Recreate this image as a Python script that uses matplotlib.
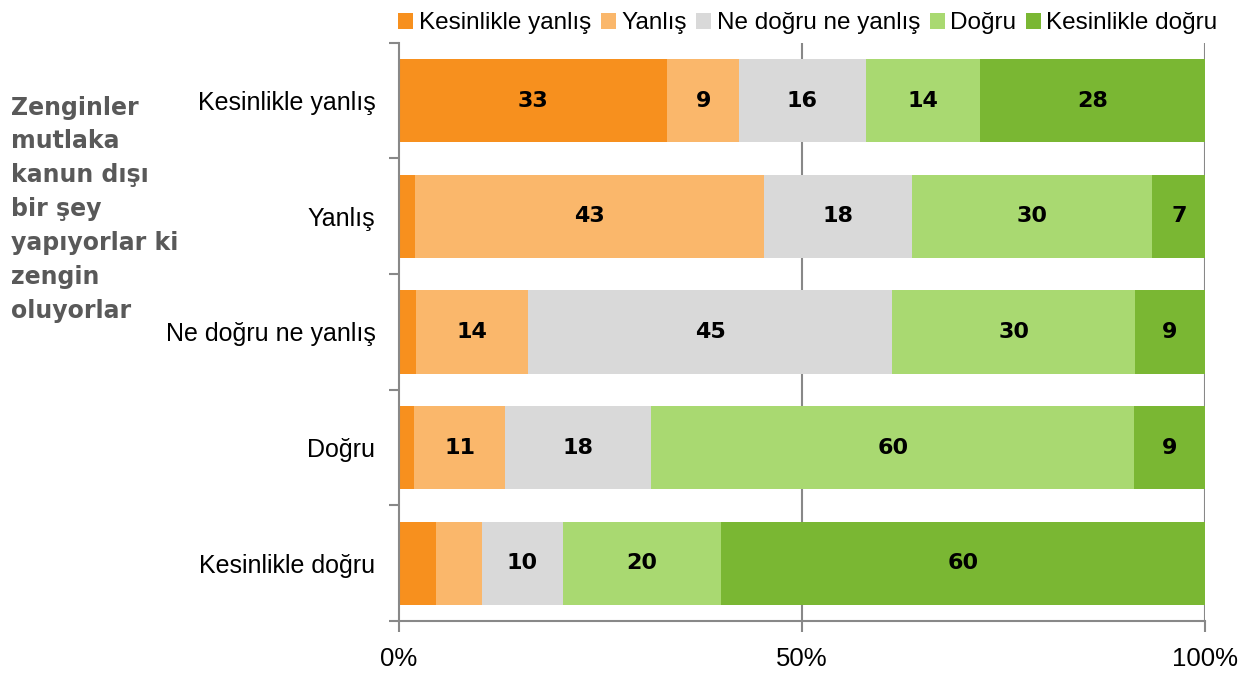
import matplotlib
matplotlib.use("Agg")
import matplotlib.pyplot as plt
import numpy as np

CATEGORIES = ["Kesinlikle yanlış", "Yanlış", "Ne doğru ne yanlış", "Doğru", "Kesinlikle doğru"]
SERIES = ["Kesinlikle yanlış", "Yanlış", "Ne doğru ne yanlış", "Doğru", "Kesinlikle doğru"]
COLORS = ["#F7901E", "#FAB76B", "#D9D9D9", "#A9D971", "#7AB733"]

# one list per series, values per category (top to bottom)
KES_YANLIS = [33.3, 2.0, 2.1, 1.9, 4.6]
YANLIS = [8.9, 43.3, 13.9, 11.3, 5.7]
NOTR = [15.7, 18.4, 45.2, 18.1, 10.0]
DOGRU = [14.2, 29.7, 30.1, 59.9, 19.7]
KES_DOGRU = [27.9, 6.7, 8.7, 8.8, 60.0]

TITLE = "Zenginler\nmutlaka\nkanun dışı\nbir şey\nyapıyorlar ki\nzengin\noluyorlar"

LABEL_FONT = ["Liberation Sans", "DejaVu Sans"]
HEAVY_FONT = ["DejaVu Sans"]

fig = plt.figure(figsize=(12.52, 6.73), dpi=100)
ax = fig.add_axes([0.3187, 0.0773, 0.6438, 0.859])

data = [KES_YANLIS, YANLIS, NOTR, DOGRU, KES_DOGRU]
y = np.arange(len(CATEGORIES))
left = np.zeros(len(CATEGORIES))
handles = []
for name, vals, color in zip(SERIES, data, COLORS):
    vals = np.array(vals)
    bars = ax.barh(y, vals, left=left, height=0.72, color=color, edgecolor="none", label=name)
    handles.append(bars)
    for yi, l, v in zip(y, left, vals):
        if v >= 6:
            ax.text(l + v / 2, yi, f"{v:.0f}", ha="center", va="center",
                    fontsize=16, fontweight="bold", family=HEAVY_FONT, color="black")
    left += vals

ax.set_xlim(0, 100)
ax.set_ylim(4.5, -0.5)
ax.set_xticks([0, 50, 100])
ax.set_xticklabels(["0%", "50%", "100%"], fontsize=18.5, family=LABEL_FONT)
ax.set_yticks(y)
ax.set_yticklabels(CATEGORIES, fontsize=18, family=LABEL_FONT)
ax.tick_params(axis="y", length=0, pad=17)
ax.set_yticks(np.arange(-0.5, 5, 1), minor=True)
ax.tick_params(axis="y", which="minor", length=7, width=1.5, color="#888888")
ax.tick_params(axis="x", length=8, width=1.5, color="#888888", direction="out", pad=11)

ax.set_axisbelow(True)
for xv in (50, 100):
    ax.axvline(xv, color="#888888", lw=1.5, zorder=0)
for side in ("top", "right"):
    ax.spines[side].set_visible(False)
for side in ("left", "bottom"):
    ax.spines[side].set_color("#888888")
    ax.spines[side].set_linewidth(1.5)

fig.legend(handles=handles, labels=SERIES, loc="upper right", bbox_to_anchor=(0.99, 1.014),
           ncol=5, frameon=False, handlelength=0.62, handleheight=0.62, handletextpad=0.22,
           columnspacing=0.4, prop={"family": LABEL_FONT, "size": 17.5})

fig.text(0.009, 0.858, TITLE, ha="left", va="top", fontsize=17, fontweight="bold",
         family=HEAVY_FONT, color="#595959", linespacing=1.52)

fig.savefig("out.png", dpi=100)
